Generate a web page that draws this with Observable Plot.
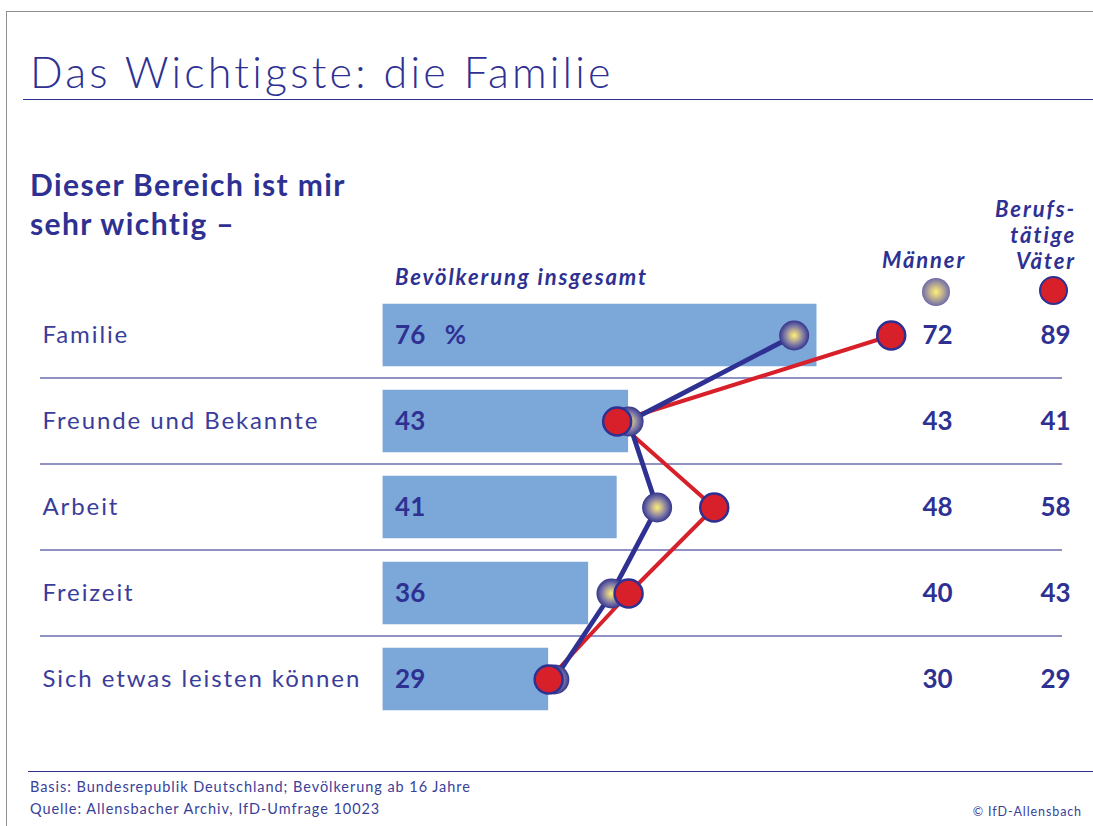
<!DOCTYPE html>
<html><head><meta charset="utf-8">
<script src="https://cdn.jsdelivr.net/npm/d3@7"></script>
<script src="https://cdn.jsdelivr.net/npm/@observablehq/plot@0.6"></script>
<style>
body{margin:0;background:#fff}
#page{position:relative;width:1093px;height:826px;overflow:hidden;font-family:Lato,"Open Sans",sans-serif;color:#2e3192;background:#fff}
.abs{position:absolute;white-space:nowrap;line-height:1}
.hdr{font-size:22px;font-weight:700;font-style:italic;letter-spacing:1.9px}
#chart{position:absolute;left:0;top:250px}
</style></head><body>
<div id="page">
 <div class="abs" style="left:6px;top:11px;width:1100px;height:900px;border-top:1px solid #8f8f8f;border-left:1px solid #8f8f8f"></div>
 <div class="abs" id="title" style="left:30px;top:50px;font-size:43px;font-weight:300;letter-spacing:3.2px"></div>
 <div class="abs" style="left:23px;top:99px;width:1070px;height:0;border-top:1.5px solid #2e3192"></div>
 <div class="abs" id="subtitle" style="left:30px;top:165px;font-size:30px;font-weight:700;line-height:39px;letter-spacing:1.4px"></div>
 <div class="abs hdr" id="hGes" style="left:395px;top:266px"></div>
 <div class="abs hdr" id="hM" style="left:882px;top:249px"></div>
 <div class="abs hdr" id="hV" style="right:17px;top:196px;text-align:right;line-height:26px"></div>
 <div class="abs" style="left:922px;top:278px;width:28px;height:28px;border-radius:50%;background:radial-gradient(circle,#fbf07a 0%,#c9b98c 30%,#7a76a6 65%,#34358c 100%)"></div>
 <div class="abs" style="left:1039px;top:276px;width:29px;height:29px;border-radius:50%;background:#d7202a;border:2.5px solid #2e3192;box-sizing:border-box"></div>
 <div id="chart"></div>
 <div class="abs" style="left:28px;top:771px;width:1070px;height:0;border-top:1.5px solid #2e3192"></div>
 <div class="abs" id="basis" style="left:30px;top:780px;font-size:14.5px;color:#3a3f9a;letter-spacing:0.95px"></div>
 <div class="abs" id="quelle" style="left:30px;top:802px;font-size:14.5px;color:#3a3f9a;letter-spacing:0.95px"></div>
 <div class="abs" id="copy" style="right:11px;top:806px;font-size:12.5px;color:#3a3f9a;letter-spacing:0.9px"></div>
</div>
<script>
const titleText = "Das Wichtigste: die Familie";
const subtitleLines = ["Dieser Bereich ist mir", "sehr wichtig –"];
const headerGesamt = "Bevölkerung insgesamt";
const headerMaenner = "Männer";
const headerVaeter = ["Berufs-", "tätige", "Väter"];
const basisText = "Basis: Bundesrepublik Deutschland; Bevölkerung ab 16 Jahre";
const quelleText = "Quelle: Allensbacher Archiv, IfD-Umfrage 10023";
const copyText = "© IfD-Allensbach";

const categories = ["Familie", "Freunde und Bekannte", "Arbeit", "Freizeit", "Sich etwas leisten können"];
const gesamt = [76, 43, 41, 36, 29];
const maenner = [72, 43, 48, 40, 30];
const vaeter = [89, 41, 58, 43, 29];

document.getElementById("title").textContent = titleText;
document.getElementById("subtitle").innerHTML = subtitleLines.join("<br>");
document.getElementById("hGes").textContent = headerGesamt;
document.getElementById("hM").textContent = headerMaenner;
document.getElementById("hV").innerHTML = headerVaeter.join("<br>");
document.getElementById("basis").textContent = basisText;
document.getElementById("quelle").textContent = quelleText;
document.getElementById("copy").textContent = copyText;

const data = categories.map((c, i) => ({
  cat: c, gesamt: gesamt[i], maenner: maenner[i], vaeter: vaeter[i],
  label: i === 0 ? gesamt[i] + "\u2003%" : String(gesamt[i])
}));

const navy = "#2e3192";
const defs = () => {
  const d = d3.create("svg:defs");
  const g = d.append("radialGradient").attr("id", "gM").attr("cx", "50%").attr("cy", "50%").attr("r", "50%");
  [[0, "#fbf07a"], [0.3, "#c9b98c"], [0.65, "#7a76a6"], [1, "#34358c"]].forEach(([o, c]) =>
    g.append("stop").attr("offset", o).attr("stop-color", c));
  return d.node();
};

const chart = Plot.plot({
  width: 1093, height: 490,
  marginTop: 40.25, marginBottom: 17.25, marginLeft: 40, marginRight: 31,
  x: {domain: [-60, 119], axis: null},
  y: {type: "band", domain: categories, padding: 0, axis: null},
  style: {background: "transparent", overflow: "visible", fontFamily: "Lato, 'Open Sans', sans-serif"},
  marks: [
    defs,
    Plot.ruleY(categories.slice(0, 4), {dy: 42.5, stroke: "#6b6eb0", strokeWidth: 1.3}),
    Plot.barX(data, {x: "gesamt", y: "cat", fill: "#7ba7d9", insetTop: 11.75, insetBottom: 11.75}),
    Plot.text(data, {x: 0, y: "cat", text: "label", dx: 12, textAnchor: "start", fontSize: 26, fontWeight: "bold", fill: navy}),
    Plot.text(data, {y: "cat", text: "cat", frameAnchor: "left", textAnchor: "start", dx: 2, fontSize: 24, fill: "#3a3d9a"}),
    Plot.line(data, {x: "vaeter", y: "cat", stroke: "#d7202a", strokeWidth: 4}),
    Plot.line(data, {x: "maenner", y: "cat", stroke: navy, strokeWidth: 4.8}),
    Plot.dot(data, {x: "maenner", y: "cat", r: 15, fill: "url(#gM)"}),
    Plot.dot(data, {x: "vaeter", y: "cat", r: 14, fill: "#d7202a", stroke: navy, strokeWidth: 2.5}),
    Plot.text(data, {y: "cat", text: "maenner", frameAnchor: "right", textAnchor: "middle", dx: -125, fontSize: 26, fontWeight: "bold", fill: navy}),
    Plot.text(data, {y: "cat", text: "vaeter", frameAnchor: "right", textAnchor: "middle", dx: -7, fontSize: 26, fontWeight: "bold", fill: navy})
  ]
});
d3.select(chart).selectAll("text")
  .filter(function() { return categories.includes(this.textContent); })
  .attr("letter-spacing", "1.9px").style("letter-spacing", "1.9px");
document.getElementById("chart").appendChild(chart);
</script>
</body></html>
